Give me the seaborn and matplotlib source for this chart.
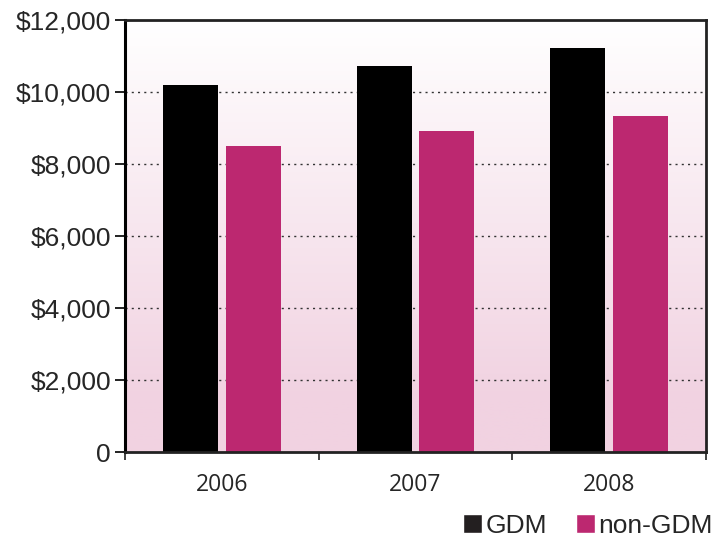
import numpy as np
import pandas as pd
import matplotlib
matplotlib.use("Agg")
import matplotlib.pyplot as plt
import seaborn as sns
from matplotlib.patches import Patch
from matplotlib.ticker import FuncFormatter, FixedLocator

years = ["2006", "2007", "2008"]
gdm = [10200, 10720, 11220]
non_gdm = [8500, 8920, 9330]
series = ["GDM", "non-GDM"]
colors = ["#000000", "#bc2870"]

df = pd.DataFrame({
    "year": years * 2,
    "cost": gdm + non_gdm,
    "group": [series[0]] * 3 + [series[1]] * 3,
})

sns.set_theme(style="white")
plt.rcParams["font.family"] = ["Liberation Sans", "DejaVu Sans"]

fig = plt.figure(figsize=(7.18, 5.37), dpi=100)
ax = fig.add_axes([125 / 718, 1 - 452 / 537, 581 / 718, 432 / 537])

sns.barplot(data=df, x="year", y="cost", hue="group", palette=colors,
            width=0.65, gap=0.127, ax=ax, legend=False, saturation=1,
            zorder=3, edgecolor="none")

# vertical white-to-pink background gradient (white at the top)
grad = np.clip(np.linspace(0, 1, 256) / 0.88, 0, 1)
top = np.array([1.0, 1.0, 1.0])
bottom = np.array([241, 210, 225]) / 255
img = (top[None, :] + (bottom - top)[None, :] * grad[:, None]).reshape(256, 1, 3)
ax.imshow(img, extent=[-0.5, 2.5, 0, 12000], aspect="auto", zorder=0,
          origin="upper")
ax.set_xlim(-0.5, 2.5)
ax.set_ylim(0, 12000)

# dotted horizontal grid
for v in range(2000, 12000, 2000):
    ax.axhline(v, color="#333333", lw=1.0, ls=(0, (1.5, 3)), zorder=1)

ax.yaxis.set_major_locator(FixedLocator(range(0, 12001, 2000)))
ax.yaxis.set_major_formatter(FuncFormatter(
    lambda v, p: "0" if v == 0 else f"${int(v):,}"))
ax.tick_params(axis="y", which="major", direction="out", length=7, width=1.3,
               color="#111111", labelsize=19, pad=3, left=True)
ax.set_xticks([0, 1, 2])
ax.set_xticklabels(years, family=["Open Sans", "DejaVu Sans"], fontsize=16.5)
ax.tick_params(axis="x", which="major", length=0, pad=15)
ax.set_xticks([-0.5, 0.5, 1.5, 2.5], minor=True)
ax.tick_params(axis="x", which="minor", direction="out", length=6, width=1.3,
               color="#333333", bottom=True)
ax.set_xlabel("")
ax.set_ylabel("")

ax.spines["left"].set_color("#000000")
ax.spines["left"].set_linewidth(2.2)
for s in ["bottom", "top", "right"]:
    ax.spines[s].set_color("#222222")
    ax.spines[s].set_linewidth(2.0)
for s in ax.spines.values():
    s.set_zorder(5)

handles = [Patch(facecolor="#231f20"), Patch(facecolor=colors[1])]
fig.legend(handles, series, loc="lower right", bbox_to_anchor=(1.026, -0.046),
           ncol=2, frameon=False, fontsize=19, handlelength=0.7,
           handleheight=0.7, handletextpad=0.15, columnspacing=1.1)

fig.savefig("out.png", dpi=100)
